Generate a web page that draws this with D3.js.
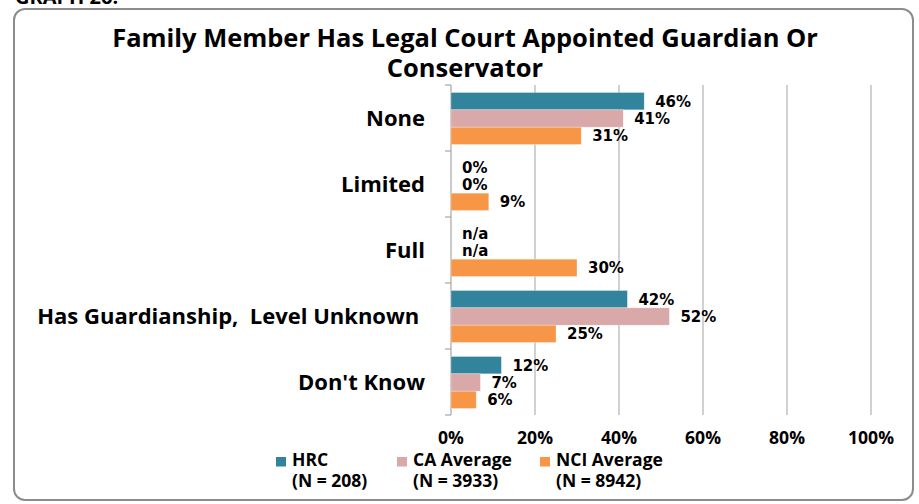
<!DOCTYPE html>
<html><head><meta charset="utf-8">
<script src="https://cdn.jsdelivr.net/npm/d3@7/dist/d3.min.js"></script>
<style>
html,body{margin:0;padding:0;background:#fff;}
svg{display:block;}
text{white-space:pre;}
</style></head>
<body>
<svg id="chart" width="919" height="504"></svg>
<script>
const categories = ["None", "Limited", "Full", "Has Guardianship,  Level Unknown ", "Don't Know"];
const seriesNames = ["HRC", "CA Average", "NCI Average"];
const seriesN = ["(N = 208)", "(N = 3933)", "(N = 8942)"];
const hrcValues = [46, 0, null, 42, 12];
const caValues = [41, 0, null, 52, 7];
const nciValues = [31, 9, 30, 25, 6];
const xTicks = [0, 20, 40, 60, 80, 100];
const colors = ["#31849b", "#d9a8a8", "#f79646"];

const series = [hrcValues, caValues, nciValues];
const svg = d3.select("#chart");
const catFont = "'Open Sans', Lato, sans-serif";
const lblFont = "'DejaVu Sans', Verdana, sans-serif";

// frame
svg.append("rect").attr("x", 14).attr("y", 9).attr("width", 899).attr("height", 491)
  .attr("rx", 11).attr("fill", "#fff").attr("stroke", "#8c8c8c").attr("stroke-width", 2);

// clipped heading above frame
svg.append("text").attr("x", 15).attr("y", 4).attr("font-family", catFont).attr("font-weight", 700)
  .attr("font-size", 20).attr("fill", "#000").text("GRAPH 26:");

// title
const title = svg.append("text").attr("text-anchor", "middle").attr("font-family", catFont)
  .attr("font-weight", 700).attr("fill", "#000");
const t1 = title.append("tspan").attr("x", 465).attr("y", 47).text("Family Member Has Legal Court Appointed Guardian Or");
title.append("tspan").attr("x", 465).attr("y", 77).text("Conservator");
{
  title.attr("font-size", 20);
  const w = t1.node().getComputedTextLength();
  title.attr("font-size", 20 * 706 / w);
}

const x = d3.scaleLinear().domain([0, 100]).range([451, 871]);
const y = d3.scaleBand().domain(categories).range([85, 415]).paddingInner(0).paddingOuter(0);
const inner = d3.scaleBand().domain(d3.range(3)).range([7.5, y.bandwidth() - 6.5]);

// gridlines
svg.append("g").selectAll("line").data(xTicks.slice(1)).join("line")
  .attr("x1", d => x(d)).attr("x2", d => x(d)).attr("y1", 85).attr("y2", 415)
  .attr("stroke", "#b3b3b3").attr("stroke-width", 1.2);

// y axis
const yAxis = svg.append("g");
yAxis.append("line").attr("x1", x(0)).attr("x2", x(0)).attr("y1", 85).attr("y2", 415)
  .attr("stroke", "#a6a6a6").attr("stroke-width", 1.2);
const bounds = categories.map(c => y(c)).concat([y(categories[4]) + y.bandwidth()]);
yAxis.selectAll("line.tk").data(bounds).join("line").attr("class", "tk")
  .attr("x1", x(0) - 6).attr("x2", x(0)).attr("y1", d => d).attr("y2", d => d)
  .attr("stroke", "#a6a6a6").attr("stroke-width", 1.2);

// category labels
const catG = svg.append("g").attr("font-family", catFont).attr("font-weight", 700).attr("fill", "#000");
const catT = catG.selectAll("text").data(categories).join("text")
  .attr("x", 425).attr("y", d => y(d) + y.bandwidth() / 2).attr("dy", "0.35em")
  .attr("text-anchor", "end").text(d => d);
{
  catG.attr("font-size", 18);
  const w = catT.filter((d, i) => i === 0).node().getComputedTextLength();
  catG.attr("font-size", 18 * 59 / w);
}

// bars & labels
series.forEach((vals, si) => {
  const g = svg.append("g");
  g.selectAll("rect").data(categories.map((c, i) => ({c, v: vals[i]})).filter(d => d.v !== null && d.v > 0))
    .join("rect")
    .attr("x", x(0)).attr("y", d => y(d.c) + inner(si)).attr("width", d => x(d.v) - x(0))
    .attr("height", inner.bandwidth()).attr("fill", colors[si])
    .attr("stroke", "#fff").attr("stroke-opacity", 0.5).attr("stroke-width", 0.6);
  g.selectAll("text").data(categories.map((c, i) => ({c, v: vals[i]}))).join("text")
    .attr("x", d => x(d.v === null ? 0 : d.v) + 11)
    .attr("y", d => y(d.c) + inner(si) + inner.bandwidth() / 2).attr("dy", "0.36em")
    .attr("font-family", lblFont).attr("font-weight", 700).attr("font-size", 15).attr("fill", "#000")
    .text(d => d.v === null ? "n/a" : d.v + "%");
});

// x tick labels
const tickG = svg.append("g").attr("font-family", catFont).attr("font-weight", 700).attr("fill", "#000");
const tickT = tickG.selectAll("text").data(xTicks).join("text")
  .attr("x", d => x(d)).attr("y", 444).attr("text-anchor", "middle")
  .text(d => d + "%");
{
  tickG.attr("font-size", 16);
  const w = tickT.filter(d => d === 100).node().getComputedTextLength();
  tickG.attr("font-size", 16 * 46 / w);
}

// legend
const legX = [276, 397, 540];
const leg = svg.append("g").attr("font-family", catFont).attr("font-weight", 700).attr("fill", "#000");
const legNames = [];
seriesNames.forEach((n, i) => {
  leg.append("rect").attr("x", legX[i]).attr("y", 457).attr("width", 10).attr("height", 9.5).attr("fill", colors[i]);
  const t = leg.append("text");
  legNames.push(t.append("tspan").attr("x", legX[i] + 16).attr("y", 466).text(n));
  t.append("tspan").attr("x", legX[i] + 16).attr("y", 487).text(seriesN[i]);
});
{
  leg.attr("font-size", 16);
  const w = legNames[1].node().getComputedTextLength();
  leg.attr("font-size", 16 * 99 / w);
}
</script>
</body></html>
